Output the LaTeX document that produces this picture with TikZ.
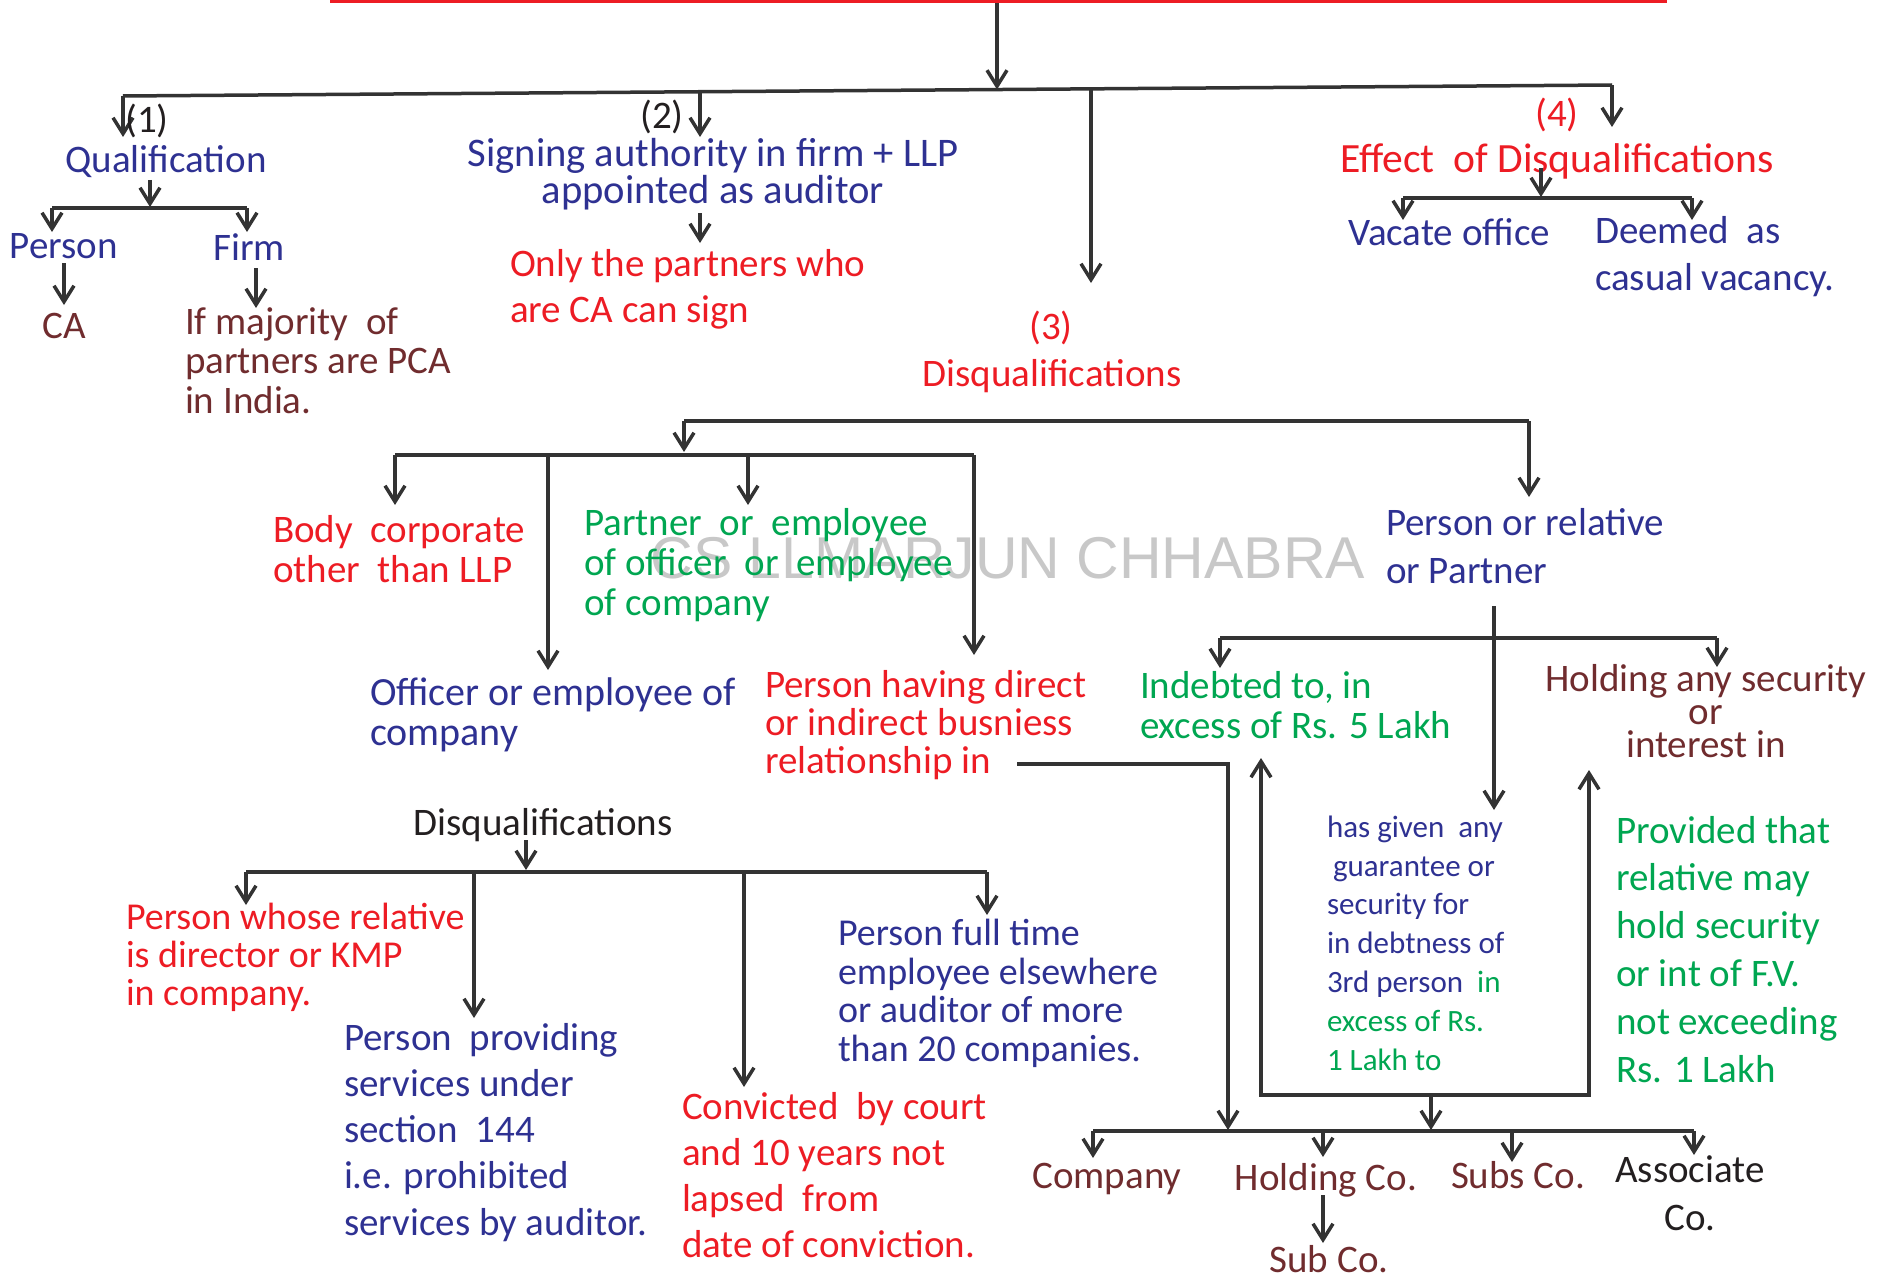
\documentclass[tikz,border=0pt]{standalone}
\usepackage{fontspec}
\setmainfont{Carlito}
\newfontfamily\wmfont{Liberation Sans}
\usetikzlibrary{arrows.meta}
\definecolor{cblue}{RGB}{46,49,146}
\definecolor{cred}{RGB}{237,28,36}
\definecolor{cgreen}{RGB}{0,166,81}
\definecolor{cbrown}{RGB}{112,44,46}
\definecolor{cblack}{RGB}{35,31,32}
\definecolor{cline}{RGB}{51,51,51}
\definecolor{cwm}{RGB}{200,200,200}
\newcommand{\fs}[2]{\fontsize{#1}{#2}\selectfont}
\begin{document}
\begin{tikzpicture}[x=0.5pt,y=-0.5pt,
  conn/.style={draw=cline,line width=1.75pt},
  arr/.style={conn,-{Straight Barb[length=8pt,width=10pt]}},
  darr/.style={conn,{Straight Barb[length=8pt,width=10pt]}-{Straight Barb[length=8pt,width=10pt]}},
  lbl/.style={inner sep=0pt,outer sep=0pt,align=left,font=\fs{19.5}{20}},
  lblc/.style={lbl,align=center},
]
\useasboundingbox (0,0) rectangle (1880,1279);

% watermark
\node[inner sep=0pt,anchor=base,text=cwm,font=\wmfont\fs{29.5}{30}] (wm) at (1008,578) {CS LLMARJUN CHHABRA};

% ---------- top ----------
\coordinate (redL) at (330,1.5);
\coordinate (redR) at (1667,1.5);
\draw[cred,line width=1.6pt] (redL) -- (redR);
\coordinate (top) at (997,3);
\coordinate (barM) at (997,89.5);
\coordinate (bar1) at (123,96);
\coordinate (bar2) at (700,91.7);
\coordinate (bar3) at (1091,88.8);
\coordinate (bar4) at (1612,85);
\draw[arr] (top) -- (barM);
\draw[conn] (bar1) -- (bar4);

% ---------- branch 1 ----------
\coordinate (t1) at (123,137);
\draw[arr] (bar1) -- (t1);
\node[lbl,anchor=center,text=cblack] (n1) at (147,121) {(1)};
\node[lbl,anchor=base,text=cblue] (qual) at (166,172) {Qualification};
\coordinate (q1) at (150,180);
\coordinate (q2) at (150,207);
\draw[arr] (q1) -- (q2);
\coordinate (qL) at (52,208);
\coordinate (qR) at (247,208);
\coordinate (qLt) at (52,232);
\coordinate (qRt) at (247,232);
\draw[conn] (qL) -- (qR);
\draw[arr] (qL) -- (qLt);
\draw[arr] (qR) -- (qRt);
\node[lbl,anchor=base,text=cblue] (person) at (64,258) {Person};
\node[lbl,anchor=base,text=cblue] (firm) at (249,260) {Firm};
\coordinate (p1) at (64,263);
\coordinate (p2) at (64,305);
\draw[arr] (p1) -- (p2);
\coordinate (f1) at (256,268);
\coordinate (f2) at (256,308);
\draw[arr] (f1) -- (f2);
\node[lbl,anchor=base,text=cbrown] (ca) at (64,338) {CA};
\node[lbl,anchor=base west,text=cbrown,font=\fs{19.5}{19.75}] (maj) at (185,413) {If majority \ of\\partners are PCA\\in India.};

% ---------- branch 2 ----------
\coordinate (t2) at (700,137);
\draw[arr] (bar2) -- (t2);
\node[lbl,anchor=center,text=cblack] (n2) at (662,117) {(2)};
\node[lblc,anchor=base,text=cblue,font=\fs{20.3}{18.5}] (sign) at (713,204) {Signing authority in firm + LLP\\appointed as auditor};
\coordinate (s1) at (700,213);
\coordinate (s2) at (700,243);
\draw[arr] (s1) -- (s2);
\node[lbl,anchor=base west,text=cred,font=\fs{19.5}{23}] (only) at (510,322) {Only the partners who\\are CA can sign};

% ---------- branch 3 ----------
\coordinate (t3) at (1091,283);
\draw[arr] (bar3) -- (t3);
\node[lbl,anchor=center,text=cred] (n3) at (1051,328) {(3)};
\node[lbl,anchor=base,text=cred] (disq) at (1052,386) {Disqualifications};

% ---------- branch 4 ----------
\coordinate (t4) at (1612,127);
\draw[arr] (bar4) -- (t4);
\node[lbl,anchor=center,text=cred] (n4) at (1557,115) {(4)};
\node[lbl,anchor=base,text=cred,font=\fs{20.8}{21}] (effect) at (1557,173) {Effect \ of Disqualifications};
\coordinate (e1) at (1541,168);
\coordinate (e2) at (1541,197);
\draw[arr] (e1) -- (e2);
\coordinate (eL) at (1403,198);
\coordinate (eR) at (1692,198);
\coordinate (eLt) at (1403,220);
\coordinate (eRt) at (1692,220);
\draw[conn] (eL) -- (eR);
\draw[arr] (eL) -- (eLt);
\draw[arr] (eR) -- (eRt);
\node[lbl,anchor=base,text=cblue] (vacate) at (1449,245) {Vacate office};
\node[lbl,anchor=base west,text=cblue,font=\fs{19.5}{23.5}] (deemed) at (1595,290) {Deemed \ as\\casual vacancy.};

% ---------- disqualifications tree ----------
\coordinate (dA) at (684,421);
\coordinate (dB) at (1529,421);
\coordinate (dAt) at (684,452);
\coordinate (dBt) at (1529,497);
\draw[conn] (dA) -- (dB);
\draw[arr] (dA) -- (dAt);
\draw[arr] (dB) -- (dBt);
\coordinate (c1) at (395,455);
\coordinate (c2) at (548,455);
\coordinate (c3) at (748,455);
\coordinate (c4) at (974,455);
\coordinate (c1t) at (395,505);
\coordinate (c2t) at (548,670);
\coordinate (c3t) at (748,505);
\coordinate (c4t) at (974,655);
\draw[conn] (c1) -- (c4);
\draw[arr] (c1) -- (c1t);
\draw[arr] (c2) -- (c2t);
\draw[arr] (c3) -- (c3t);
\draw[arr] (c4) -- (c4t);
\node[lbl,anchor=base west,text=cred,font=\fs{19.5}{20}] (body) at (273,582) {Body \ corporate\\other \ than LLP};
\node[lbl,anchor=base west,text=cgreen,font=\fs{19.5}{20}] (partner) at (584,615) {Partner \ or \ employee\\of officer \ or \ employee\\of company};
\node[lbl,anchor=base west,text=cblue,font=\fs{20}{20}] (officer) at (370,745) {Officer or employee of\\company};
\node[lbl,anchor=base west,text=cred,font=\fs{19.5}{19}] (having) at (765,773) {Person having direct\\or indirect busniess\\relationship in};
\node[lbl,anchor=base west,text=cblue,font=\fs{19.5}{24}] (prel) at (1386,583) {Person or relative\\or Partner};

% person or relative subtree
\coordinate (r1) at (1494,606);
\coordinate (r2) at (1494,810);
\draw[arr] (r1) -- (r2);
\coordinate (rL) at (1220,638);
\coordinate (rR) at (1717,638);
\coordinate (rLt) at (1220,668);
\coordinate (rRt) at (1717,667);
\draw[conn] (rL) -- (rR);
\draw[arr] (rL) -- (rLt);
\draw[arr] (rR) -- (rRt);
\node[lbl,anchor=base west,text=cgreen,font=\fs{19.5}{20}] (indebt) at (1140,738) {Indebted to, in\\excess of Rs. 5 Lakh};
\node[lblc,anchor=base,text=cbrown,font=\fs{19.5}{16.5}] (holding) at (1706,757) {Holding any security\\or\\interest in};
\node[lbl,anchor=base west,text=cblue,font=\fs{15.5}{19.4}] (guar) at (1327,1070) {has given \ any\\\hspace{3pt}guarantee or\\security for\\in debtness of\\3rd person \ \textcolor{cgreen}{in}\\\textcolor{cgreen}{excess of Rs.}\\\textcolor{cgreen}{1 Lakh to}};
\node[lbl,anchor=base west,text=cgreen,font=\fs{19.5}{23.9}] (provided) at (1616,1082) {Provided that\\relative may\\hold security\\or int of F.V.\\not exceeding\\Rs. 1 Lakh};

% connectors to company group
\coordinate (h1) at (1017,764);
\coordinate (h2) at (1228,764);
\coordinate (h3) at (1228,1130);
\draw[arr] (h1) -- (h2) -- (h3);
\coordinate (bxLt) at (1261,758);
\coordinate (bxL) at (1261,1095);
\coordinate (bxR) at (1589,1095);
\coordinate (bxRt) at (1589,770);
\draw[darr] (bxLt) -- (bxL) -- (bxR) -- (bxRt);
\coordinate (bx1) at (1431,1095);
\coordinate (bx2) at (1431,1130);
\draw[arr] (bx1) -- (bx2);
\coordinate (g1) at (1093,1131);
\coordinate (g2) at (1323,1131);
\coordinate (g3) at (1512,1131);
\coordinate (g4) at (1694,1131);
\coordinate (g1t) at (1093,1158);
\coordinate (g2t) at (1323,1157);
\coordinate (g3t) at (1512,1162);
\coordinate (g4t) at (1694,1155);
\draw[conn] (g1) -- (g4);
\draw[arr] (g1) -- (g1t);
\draw[arr] (g2) -- (g2t);
\draw[arr] (g3) -- (g3t);
\draw[arr] (g4) -- (g4t);
\node[lbl,anchor=base,text=cbrown] (company) at (1107,1188) {Company};
\node[lbl,anchor=base,text=cbrown] (holdco) at (1326,1190) {Holding Co.};
\node[lbl,anchor=base,text=cbrown] (subsco) at (1518,1188) {Subs Co.};
\node[lblc,anchor=base,text=cblack,font=\fs{19.5}{24}] (assoc) at (1690,1230) {Associate\\Co.};
\coordinate (sc1) at (1323,1195);
\coordinate (sc2) at (1323,1243);
\draw[arr] (sc1) -- (sc2);
\node[lbl,anchor=base,text=cbrown] (subco) at (1329,1272) {Sub Co.};

% ---------- lower-left disqualifications ----------
\node[lbl,anchor=base,text=cblack] (disq2) at (543,835) {Disqualifications};
\coordinate (k1) at (526,840);
\coordinate (k2) at (526,870);
\draw[arr] (k1) -- (k2);
\coordinate (m1) at (246,872);
\coordinate (m2) at (474,872);
\coordinate (m3) at (744,872);
\coordinate (m4) at (987,872);
\coordinate (m1t) at (246,905);
\coordinate (m2t) at (474,1018);
\coordinate (m3t) at (744,1087);
\coordinate (m4t) at (987,915);
\draw[conn] (m1) -- (m4);
\draw[arr] (m1) -- (m1t);
\draw[arr] (m2) -- (m2t);
\draw[arr] (m3) -- (m3t);
\draw[arr] (m4) -- (m4t);
\node[lbl,anchor=base west,text=cred,font=\fs{19}{18.9}] (whose) at (126,1005) {Person whose relative\\is director or KMP\\in company.};
\node[lbl,anchor=base west,text=cblue,font=\fs{19.5}{23.1}] (providing) at (344,1235) {Person \ providing\\services under\\section \ 144\\i.e. prohibited\\services by auditor.};
\node[lbl,anchor=base west,text=cred,font=\fs{19.5}{22.9}] (convicted) at (682,1257) {Convicted \ by court\\and 10 years not\\lapsed \ from\\date of conviction.};
\node[lbl,anchor=base west,text=cblue,font=\fs{19}{19.2}] (fulltime) at (838,1061) {Person full time\\employee elsewhere\\or auditor of more\\than 20 companies.};
\end{tikzpicture}
\end{document}
